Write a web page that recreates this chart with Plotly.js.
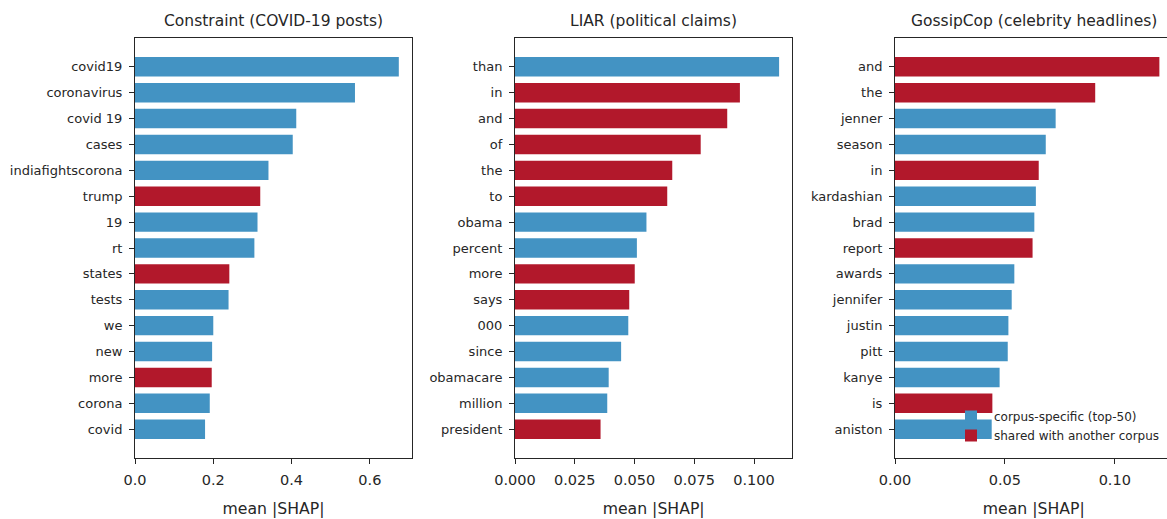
<!DOCTYPE html>
<html>
<head>
<meta charset="utf-8">
<script src="https://cdn.plot.ly/plotly-3.0.1.min.js"></script>
<style>
html,body{margin:0;padding:0;overflow:hidden;background:#fff;}
#chart{width:1175px;height:519px;}
</style>
</head>
<body>
<div id="chart"></div>
<script>
// ---- Data ----
const panelTitles = ["Constraint (COVID-19 posts)", "LIAR (political claims)", "GossipCop (celebrity headlines)"];
const legendNames = ["corpus-specific (top-50)", "shared with another corpus"];

const constraintWords = ["covid19","coronavirus","covid 19","cases","indiafightscorona","trump","19","rt","states","tests","we","new","more","corona","covid"];
const constraintVals  = [0.674,0.562,0.412,0.403,0.341,0.320,0.313,0.305,0.241,0.239,0.200,0.197,0.196,0.191,0.179];
const constraintShared= [0,0,0,0,0,1,0,0,1,0,0,0,1,0,0];

const liarWords = ["than","in","and","of","the","to","obama","percent","more","says","000","since","obamacare","million","president"];
const liarVals  = [0.1105,0.0941,0.0888,0.0777,0.0658,0.0637,0.0550,0.0510,0.0501,0.0478,0.0474,0.0444,0.0392,0.0386,0.0358];
const liarShared= [0,1,1,1,1,1,0,0,1,1,0,0,0,0,1];

const gossipWords = ["and","the","jenner","season","in","kardashian","brad","report","awards","jennifer","justin","pitt","kanye","is","aniston"];
const gossipVals  = [0.1203,0.0911,0.0731,0.0686,0.0654,0.0641,0.0634,0.0626,0.0543,0.0531,0.0516,0.0513,0.0476,0.0443,0.0440];
const gossipShared= [1,1,0,0,1,0,0,1,0,0,0,0,0,1,0];

const xTickStep   = [0.2, 0.025, 0.05];
const xTickFormat = [".1f", ".3f", ".2f"];

// ---- Styles ----
const COL_SPEC = "#4393c3";
const COL_SHARED = "#b2182b";
const FONT = "DejaVu Sans, sans-serif";
const W = 1175, H = 519;
const plotTop = 38, plotBot = 458;
const panelX = [[135, 412], [515, 792.3], [895, 1172.6]];

const panels = [
  {words: constraintWords, vals: constraintVals, shared: constraintShared},
  {words: liarWords, vals: liarVals, shared: liarShared},
  {words: gossipWords, vals: gossipVals, shared: gossipShared}
];

const traces = [];
const layout = {
  width: W, height: H,
  margin: {l: 0, r: 0, t: 0, b: 0, autoexpand: false},
  paper_bgcolor: "#fff", plot_bgcolor: "#fff",
  barmode: "overlay",
  showlegend: true,
  font: {family: FONT, color: "#262626"},
  legend: {
    x: 948 / W, y: 1 - 402 / H, xanchor: "left", yanchor: "top",
    bgcolor: "rgba(0,0,0,0)", borderwidth: 0,
    font: {family: FONT, size: 12, color: "#262626"},
    itemwidth: 36,
    tracegroupgap: 0
  },
  annotations: []
};

panels.forEach((p, i) => {
  const n = i === 0 ? "" : String(i + 1);
  const xa = "x" + n, ya = "y" + n;
  [0, 1].forEach(flag => {
    const ys = [], xs = [];
    p.words.forEach((w, k) => { if (p.shared[k] === flag) { ys.push(w); xs.push(p.vals[k]); } });
    traces.push({
      type: "bar", orientation: "h", x: xs, y: ys,
      xaxis: xa, yaxis: ya, width: 0.75,
      name: legendNames[flag], legendgroup: "g" + flag,
      showlegend: i === 2,
      marker: {color: flag ? COL_SHARED : COL_SPEC, line: {width: 0}},
      hoverinfo: "x+y"
    });
  });
  const maxV = Math.max(...p.vals);
  const nCat = p.words.length;
  const pad = 0.05 * (nCat - 1 + 0.75);
  layout["xaxis" + n] = {
    domain: [panelX[i][0] / W, panelX[i][1] / W],
    anchor: ya,
    range: [0, maxV * 1.05],
    dtick: xTickStep[i], tick0: 0, tickformat: xTickFormat[i],
    ticks: "outside", ticklen: 5, tickwidth: 1, tickcolor: "#262626",
    ticklabelstandoff: 4,
    showline: true, linecolor: "#262626", linewidth: 1, mirror: true,
    showgrid: false, zeroline: false,
    tickfont: {family: FONT, size: 14.5, color: "#262626"},
    title: {text: "mean |SHAP|", font: {family: FONT, size: 15.7, color: "#262626"}, standoff: 15},
    automargin: false, fixedrange: true
  };
  layout["yaxis" + n] = {
    domain: [1 - plotBot / H, 1 - plotTop / H],
    anchor: xa,
    type: "category", categoryorder: "array", categoryarray: p.words,
    range: [nCat - 1 + 0.375 + pad, -0.375 - pad],
    ticks: "outside", ticklen: 5, tickwidth: 1, tickcolor: "#262626",
    ticklabelstandoff: 4,
    showline: true, linecolor: "#262626", linewidth: 1, mirror: true,
    showgrid: false, zeroline: false,
    tickfont: {family: FONT, size: 13, color: "#262626"},
    automargin: false, fixedrange: true
  };
  layout.annotations.push({
    text: panelTitles[i], xref: "paper", yref: "paper",
    x: (panelX[i][0] + panelX[i][1]) / 2 / W, y: 1 - 21 / H,
    xanchor: "center", yanchor: "middle", showarrow: false,
    font: {family: FONT, size: 15.5, color: "#262626"}
  });
});

Plotly.newPlot("chart", traces, layout, {displayModeBar: false, staticPlot: true});
</script>
</body>
</html>
